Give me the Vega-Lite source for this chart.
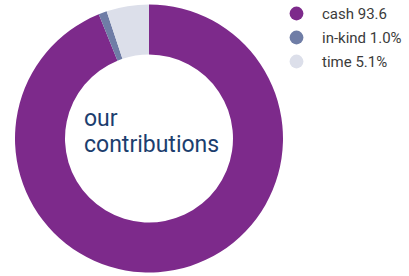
{
  "$schema": "https://vega.github.io/schema/vega-lite/v6.json",
  "width": 298,
  "height": 277,
  "padding": 0,
  "autosize": {"type": "pad"},
  "background": "white",
  "view": {"stroke": null},
  "config": {"font": "Roboto"},
  "layer": [
    {
      "data": {"values": [
        {"category": "cash", "share": 93.6},
        {"category": "in-kind", "share": 1.0},
        {"category": "time", "share": 5.1}
      ]},
      "mark": {"type": "arc", "radius": 134, "radius2": 84, "stroke": null},
      "encoding": {
        "theta": {"field": "share", "type": "quantitative", "stack": true},
        "color": {
          "field": "category",
          "type": "nominal",
          "sort": ["cash", "in-kind", "time"],
          "scale": {"domain": ["cash", "in-kind", "time"], "range": ["#7d2a8b", "#6f7da6", "#dcdfea"]},
          "legend": {
            "title": null,
            "orient": "none",
            "legendX": 289,
            "legendY": 6,
            "padding": 0,
            "symbolType": "circle",
            "symbolSize": 190,
            "symbolStrokeWidth": 0,
            "rowPadding": 8,
            "labelOffset": 18,
            "labelFontSize": 15,
            "labelColor": "#3b3b3b",
            "labelFont": "Roboto",
            "labelExpr": "datum.label == 'cash' ? 'cash 93.6' : datum.label == 'in-kind' ? 'in-kind 1.0%' : 'time 5.1%'"
          }
        }
      }
    },
    {
      "data": {"values": [{"t": "center"}]},
      "mark": {
        "type": "text",
        "text": ["our", "contributions"],
        "align": "left",
        "baseline": "alphabetic",
        "dx": -65,
        "dy": -13,
        "lineHeight": 26,
        "fontSize": 23,
        "font": "Roboto",
        "color": "#1c3e6e"
      },
      "encoding": {}
    }
  ]
}
